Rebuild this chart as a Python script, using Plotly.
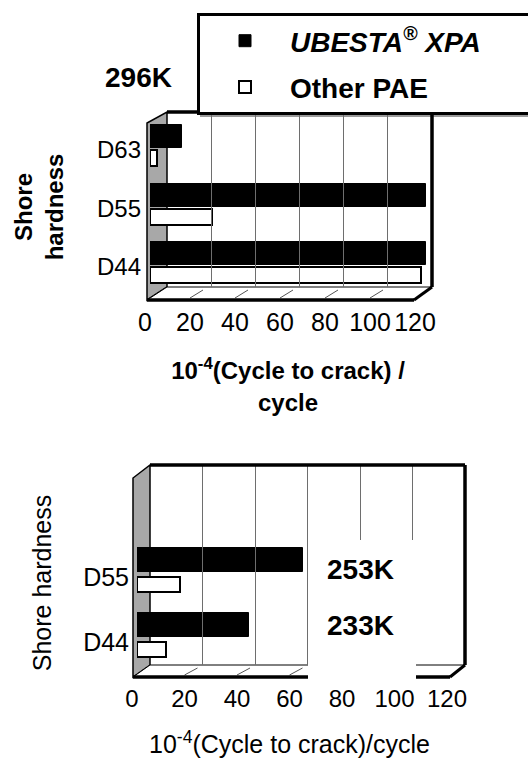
import plotly.graph_objects as go

W, H = 528, 758

# ---------------- data ----------------
categories_top = ["D44", "D55", "D63"]
ubesta_top = [120, 120, 14]
other_top = [118, 27, 3]

categories_bottom = ["D44", "D55"]
ubesta_bottom = [42, 62]
other_bottom = [11, 16]

x_ticks = [0, 20, 40, 60, 80, 100, 120]
series_names = ["<b><i>UBESTA<sup>®</sup> XPA</i></b>&nbsp;&nbsp;&nbsp;&nbsp;&nbsp;&nbsp;&nbsp;",
                "<b>Other PAE</b>"]
temp_top = "296K"
temp_bottom = ["253K", "233K"]

FONT = "Arial, 'Liberation Sans', sans-serif"


def fx(px):
    return px / W


def fy(py):
    return 1 - py / H


def xdom(a, b):
    return [fx(a), fx(b)]


def ydom(top, bottom):
    return [fy(bottom), fy(top)]


def path(points):
    return "M" + " L".join(f"{fx(a):.5f},{fy(b):.5f}" for a, b in points) + " Z"


# geometry (pixels) of the pseudo-3D boxes
TOP = dict(fl=147, bl=167, br=432, fr=414, top=112, wall_top=123, floor_back=287, floor_front=300,
           bar=(150, 426), tick=(145, 415), cat=(112, 300))
BOT = dict(fl=133, bl=150, br=465, fr=450, top=465, wall_top=478, floor_back=665, floor_front=677,
           bar=(137, 458), tick=(132, 447), cat=(465, 677))

fig = go.Figure()

# ---------------- bars ----------------
fig.add_trace(go.Bar(y=categories_top, x=ubesta_top, orientation="h", name=series_names[0],
                     marker=dict(color="black", line=dict(color="black", width=1)),
                     offset=0.034, width=0.393, xaxis="x", yaxis="y", legendgroup="a"))
fig.add_trace(go.Bar(y=categories_top, x=other_top, orientation="h", name=series_names[1],
                     marker=dict(color="white", line=dict(color="black", width=2)),
                     offset=-0.274, width=0.27, xaxis="x", yaxis="y", legendgroup="b"))
fig.add_trace(go.Bar(y=categories_bottom, x=ubesta_bottom, orientation="h", name=series_names[0],
                     marker=dict(color="black", line=dict(color="black", width=1)),
                     offset=0.077, width=0.37, xaxis="x4", yaxis="y4", showlegend=False,
                     legendgroup="a"))
fig.add_trace(go.Bar(y=categories_bottom, x=other_bottom, orientation="h", name=series_names[1],
                     marker=dict(color="white", line=dict(color="black", width=2)),
                     offset=-0.23, width=0.23, xaxis="x4", yaxis="y4", showlegend=False,
                     legendgroup="b"))

# invisible helper traces so that the grid / tick / title axes get drawn
for xa, ya in (("x2", "y2"), ("x3", "y3"), ("x5", "y5"), ("x6", "y6")):
    fig.add_trace(go.Scatter(x=x_ticks, y=[None] * len(x_ticks), xaxis=xa, yaxis=ya,
                             mode="markers", marker=dict(opacity=0), showlegend=False,
                             hoverinfo="skip"))

hidden = dict(showticklabels=False, showgrid=False, zeroline=False, showline=False, ticks="")

layout = dict(
    width=W, height=H, template="none",
    paper_bgcolor="white", plot_bgcolor="rgba(0,0,0,0)",
    margin=dict(l=0, r=0, t=0, b=0, pad=0, autoexpand=False),
    font=dict(family=FONT, color="black", size=24),
    showlegend=True,
    legend=dict(x=fx(197), y=fy(13), xanchor="left", yanchor="top",
                bgcolor="white", bordercolor="black", borderwidth=3,
                font=dict(size=28, family=FONT), itemwidth=80,
                traceorder="grouped", tracegroupgap=7, itemclick=False),
    bargap=0,
)

# top panel axes
layout["xaxis"] = dict(domain=xdom(*TOP["bar"]), range=[0, 120], anchor="y", **hidden,
                       title=dict(text="<b>10<sup>-4</sup>(Cycle to crack) /<br>cycle</b>",
                                  font=dict(size=24), standoff=62))
layout["yaxis"] = dict(domain=ydom(*TOP["cat"]), type="category", categoryorder="array",
                       categoryarray=categories_top, range=[-0.564, 2.65], anchor="x",
                       showgrid=False, zeroline=False, showline=False, ticks="",
                       tickfont=dict(size=24), ticklabelstandoff=8)
layout["xaxis2"] = dict(domain=xdom(TOP["bl"], TOP["br"]), range=[0, 120], anchor="y2",
                        showgrid=True, gridcolor="#6e6e6e", gridwidth=1, tickvals=x_ticks,
                        showticklabels=False, zeroline=False, showline=False, ticks="")
layout["yaxis2"] = dict(domain=ydom(TOP["top"], TOP["floor_back"]), range=[0, 1], anchor="x2",
                        **hidden)
layout["xaxis3"] = dict(domain=xdom(*TOP["tick"]), range=[0, 120], anchor="y3", tickvals=x_ticks,
                        showgrid=False, zeroline=False, showline=False, ticks="", tickangle=0,
                        tickfont=dict(size=25), ticklabelstandoff=5)
layout["yaxis3"] = dict(domain=ydom(114, TOP["floor_front"]), range=[0, 1], anchor="x3", **hidden,
                        title=dict(text="<b>Shore<br>hardness</b>", font=dict(size=24), standoff=73))

# bottom panel axes
layout["xaxis4"] = dict(domain=xdom(*BOT["bar"]), range=[0, 120], anchor="y4", **hidden)
layout["yaxis4"] = dict(domain=ydom(*BOT["cat"]), type="category", categoryorder="array",
                        categoryarray=categories_bottom, range=[-0.538, 2.723], anchor="x4",
                        showgrid=False, zeroline=False, showline=False, ticks="",
                        tickfont=dict(size=25), ticklabelstandoff=7)
layout["xaxis5"] = dict(domain=xdom(BOT["bl"], BOT["br"]), range=[0, 120], anchor="y5",
                        showgrid=True, gridcolor="#6e6e6e", gridwidth=1, tickvals=x_ticks,
                        showticklabels=False, zeroline=False, showline=False, ticks="")
layout["yaxis5"] = dict(domain=ydom(BOT["top"], BOT["floor_back"]), range=[0, 1], anchor="x5",
                        **hidden)
layout["xaxis6"] = dict(domain=xdom(*BOT["tick"]), range=[0, 120], anchor="y6", tickvals=x_ticks,
                        showgrid=False, zeroline=False, showline=False, ticks="", tickangle=0,
                        tickfont=dict(size=24), ticklabelstandoff=5,
                        title=dict(text="10<sup>-4</sup>(Cycle to crack)/cycle",
                                   font=dict(size=25), standoff=28))
layout["yaxis6"] = dict(domain=ydom(489, BOT["floor_front"]), range=[0, 1], anchor="x6", **hidden,
                        title=dict(text="Shore hardness", font=dict(size=25), standoff=72))

fig.update_layout(**layout)

# ---------------- pseudo-3D decoration ----------------
shapes = []
# legend shadow (only its lower strip shows below the legend box)
shapes.append(dict(type="rect", xref="paper", yref="paper", x0=fx(200), x1=fx(540), y0=fy(117),
                   y1=fy(104), fillcolor="#9a9a9a", line=dict(width=0), layer="below"))

for G in (TOP, BOT):
    ff, fb = G["floor_front"], G["floor_back"]
    # side wall
    shapes.append(dict(type="path", xref="paper", yref="paper",
                       path=path([(G["fl"], ff), (G["fl"], G["wall_top"]), (G["bl"], G["top"]),
                                  (G["bl"], fb)]),
                       fillcolor="#a8a8a8", line=dict(color="black", width=1.5), layer="below"))
    # floor
    shapes.append(dict(type="path", xref="paper", yref="paper",
                       path=path([(G["fl"], ff), (G["fr"], ff), (G["br"], fb), (G["bl"], fb)]),
                       fillcolor="white", line=dict(color="black", width=1), layer="below"))
    # floor tick diagonals
    t0, t1 = G["tick"]
    for v in x_ticks[1:-1]:
        xv = t0 + (t1 - t0) * v / 120
        shapes.append(dict(type="line", xref="paper", yref="paper", x0=fx(xv), y0=fy(ff - 2),
                           x1=fx(xv + 13), y1=fy(fb + 3), line=dict(color="#555", width=1),
                           layer="below"))
    # thick front edge and right diagonal
    shapes.append(dict(type="line", xref="paper", yref="paper", x0=fx(G["fl"]), y0=fy(ff),
                       x1=fx(G["fr"]), y1=fy(ff), line=dict(color="black", width=3.5)))
    shapes.append(dict(type="line", xref="paper", yref="paper", x0=fx(G["fr"]), y0=fy(ff),
                       x1=fx(G["br"]), y1=fy(fb), line=dict(color="black", width=3)))
    # back plane frame (top and right)
    shapes.append(dict(type="line", xref="paper", yref="paper", x0=fx(G["bl"]), y0=fy(G["top"]),
                       x1=fx(G["br"]), y1=fy(G["top"]), line=dict(color="black", width=3.5)))
    shapes.append(dict(type="line", xref="paper", yref="paper", x0=fx(G["br"]), y0=fy(G["top"]),
                       x1=fx(G["br"]), y1=fy(fb), line=dict(color="black", width=3.5)))

# white text box in the lower panel
shapes.append(dict(type="rect", xref="paper", yref="paper", x0=fx(308), x1=fx(416), y0=fy(681),
                   y1=fy(540), fillcolor="white", line=dict(width=0), layer="above"))

annotations = [
    dict(text=f"<b>{temp_top}</b>", x=fx(138), y=fy(77), xref="paper", yref="paper",
         showarrow=False, font=dict(size=28), xanchor="center", yanchor="middle"),
    dict(text=f"<b>{temp_bottom[0]}</b>", x=fx(360), y=fy(569), xref="paper", yref="paper",
         showarrow=False, font=dict(size=28), xanchor="center", yanchor="middle"),
    dict(text=f"<b>{temp_bottom[1]}</b>", x=fx(360), y=fy(625), xref="paper", yref="paper",
         showarrow=False, font=dict(size=28), xanchor="center", yanchor="middle"),
]

fig.update_layout(shapes=shapes, annotations=annotations)
fig.write_html("out.html")
